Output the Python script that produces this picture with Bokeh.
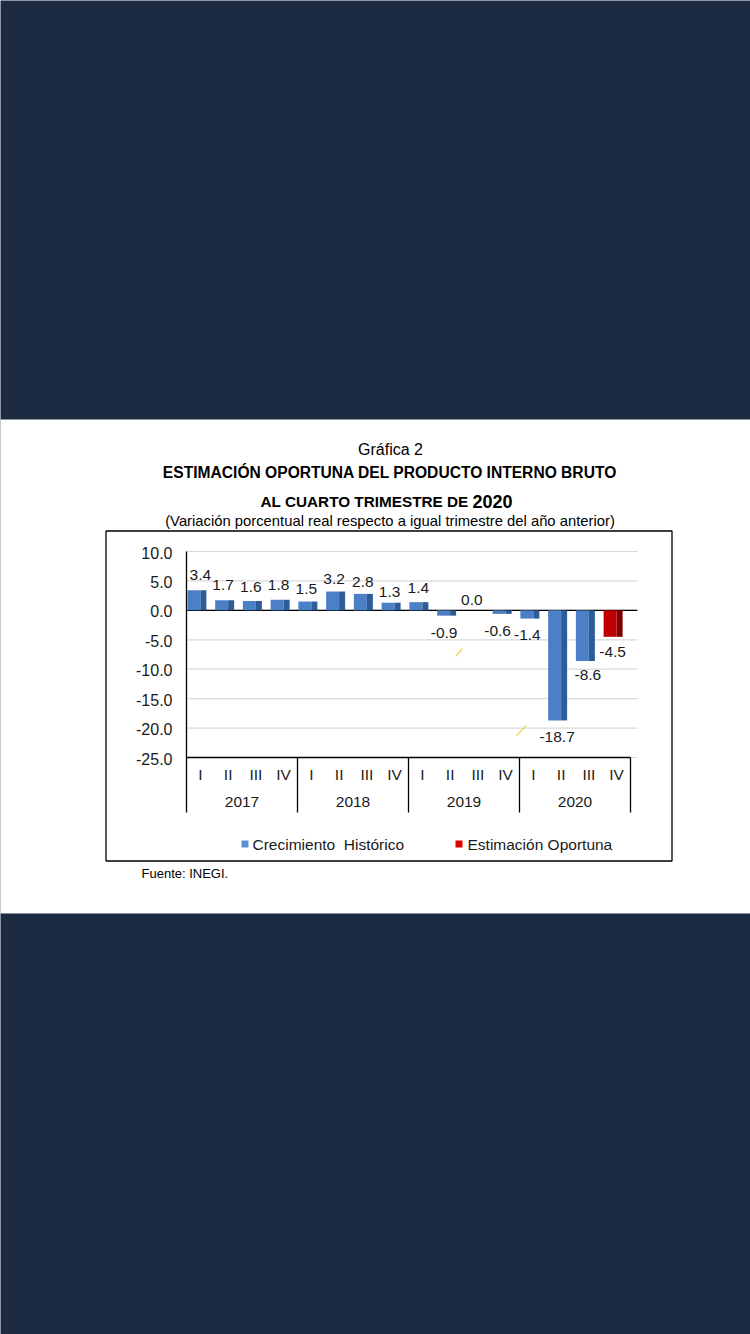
from bokeh.plotting import figure
from bokeh.models import Range1d
from bokeh.core.properties import value
from bokeh.embed import file_html
from bokeh.resources import INLINE

# ---------------- data ----------------
years = ["2017", "2018", "2019", "2020"]
quarters = ["I", "II", "III", "IV"]
historic = [3.4, 1.7, 1.6, 1.8, 1.5, 3.2, 2.8, 1.3, 1.4, -0.9, 0.0, -0.6, -1.4, -18.7, -8.6]
estimate = [-4.5]
y_ticks = [10.0, 5.0, 0.0, -5.0, -10.0, -15.0, -20.0, -25.0]
series_names = ["Crecimiento  Histórico", "Estimación Oportuna"]

# ---------------- layout helpers (pixel -> data) ----------------
W, H = 750, 1334
X0, XS = 186.0, 27.75            # pixel of category edge 0, px per category
YS = 206.0 / 35.0                # px per unit of value
Y0 = 551.0 + 10.0 * YS           # pixel of value 0


def dx(px):
    return (px - X0) / XS


def dy(py):
    return (Y0 - py) / YS


FONT = value("Liberation Sans")
DARK = "#1d2b42"
BLUE, BLUE_SIDE = "#4c80c6", "#2d5c97"
RED, RED_SIDE = "#c00000", "#7e0000"
GRID = "#d9d9d9"
TXT = "#1a1a1a"

p = figure(width=W, height=H, x_range=Range1d(dx(0), dx(W)), y_range=Range1d(dy(H), dy(0)),
           toolbar_location=None, output_backend="svg", min_border=0,
           x_axis_location=None, y_axis_location=None,
           background_fill_color=DARK, border_fill_color=DARK, outline_line_color=None)
for g in p.grid:
    g.visible = False

# white band and chart box
p.quad(left=dx(-1), right=dx(W + 1), top=dy(419), bottom=dy(913), fill_color="white", line_color=None)
p.quad(left=dx(105.5), right=dx(671.5), top=dy(530.5), bottom=dy(860.5),
       fill_color=None, line_color="black", line_width=1.3)

n = len(historic) + len(estimate)
x_end = n + 0.25
values = historic + estimate
centers = [i + 0.5 for i in range(n)]

# gridlines
p.segment(x0=[0] * len(y_ticks), x1=[x_end] * len(y_ticks), y0=y_ticks, y1=y_ticks,
          line_color=GRID, line_width=1.2)
# zero line and category axis line
p.segment(x0=[0], x1=[x_end], y0=[0], y1=[0], line_color="black", line_width=1.3)
p.segment(x0=[0], x1=[n], y0=[min(y_ticks)], y1=[min(y_ticks)], line_color="black", line_width=1.3)
# value axis line (extends through the category table)
p.segment(x0=[0], x1=[0], y0=[max(y_ticks)], y1=[dy(812)], line_color="black", line_width=1.3)
# year separators
nq = len(quarters)
seps = [nq * (k + 1) for k in range(len(years))]
p.segment(x0=seps, x1=seps, y0=[min(y_ticks)] * len(seps), y1=[dy(812)] * len(seps),
          line_color="black", line_width=1.3)

# bars (front face + darker side face)
front_w = 13.0 / XS
side_w = 6.0 / XS
for vals, start, col, side in [(historic, 0, BLUE, BLUE_SIDE), (estimate, len(historic), RED, RED_SIDE)]:
    cs = [start + i + 0.5 for i in range(len(vals))]
    tops = [max(v, 0) for v in vals]
    bots = [min(v, 0) for v in vals]
    p.quad(left=[c - front_w for c in cs], right=cs, top=tops, bottom=bots,
           fill_color=col, line_color=None)
    p.quad(left=cs, right=[c + side_w for c in cs], top=tops, bottom=bots,
           fill_color=side, line_color=None)

# data labels (pixel nudges are layout only)
label_dx = [0, -5, -5, -5, -5, -5, -4, -5, -4, -6, -6, -8, -6, -4, -1, -4]
label_dy = [-15, -15, -14, -15, -13, -13, -12, -11, -14, 17, -10, 17, 16, 17, 14, 15]
for i, v in enumerate(values):
    p.text(x=[centers[i]], y=[v], text=[f"{v:.1f}"], x_offset=label_dx[i], y_offset=label_dy[i],
           text_align="center", text_baseline="middle", text_font=FONT,
           text_font_size="15.5px", text_color=TXT)

# value axis tick labels
p.text(x=[dx(172)] * len(y_ticks), y=y_ticks, text=[f"{t:.1f}" for t in y_ticks], y_offset=1,
       text_align="right", text_baseline="middle", text_font=FONT,
       text_font_size="16px", text_color=TXT)

# category labels
p.text(x=centers, y=[dy(774)] * n, text=quarters * len(years),
       text_align="center", text_baseline="middle", text_font=FONT,
       text_font_size="15.5px", text_color=TXT)
p.text(x=[nq * k + nq / 2 for k in range(len(years))], y=[dy(801)] * len(years), text=years,
       text_align="center", text_baseline="middle", text_font=FONT,
       text_font_size="15.5px", text_color=TXT)

# small yellow leader marks
p.segment(x0=[dx(455), dx(516)], y0=[dy(656), dy(735)], x1=[dx(462), dx(526)], y1=[dy(648), dy(725)],
          line_color="#e8d650", line_width=1.2)

# legend
p.scatter(x=[dx(244.5)], y=[dy(843.5)], marker="square", size=7, fill_color="#5a8fd2", line_color=None)
p.scatter(x=[dx(458.5)], y=[dy(843.5)], marker="square", size=7, fill_color="#e00000", line_color=None)
p.text(x=[dx(252), dx(467)], y=[dy(844), dy(844)], text=[s.replace("  ", " \u00a0") for s in series_names],
       text_align="left", text_baseline="middle", text_font=FONT,
       text_font_size="15.5px", text_color=TXT)

# titles
p.text(x=[dx(390)], y=[dy(449)], text=["Gráfica 2"], text_align="center", text_baseline="middle",
       text_font=FONT, text_font_size="16px", text_color="black")
p.text(x=[dx(389.5)], y=[dy(472)], text=["ESTIMACIÓN OPORTUNA DEL PRODUCTO INTERNO BRUTO"],
       text_align="center", text_baseline="middle", text_font=FONT, text_font_style="bold",
       text_font_size="15.6px", text_color="black")
p.text(x=[dx(468)], y=[dy(501)], text=["AL CUARTO TRIMESTRE DE"], text_align="right",
       text_baseline="alphabetic", text_font=FONT, text_font_style="bold",
       text_font_size="15.3px", text_color="black")
p.text(x=[dx(472)], y=[dy(501)], text=["2020"], text_align="left",
       text_baseline="alphabetic", text_font=FONT, text_font_style="bold",
       text_font_size="18px", text_color="black")
p.text(x=[dx(389.5)], y=[dy(520)], text=["(Variación porcentual real respecto a igual trimestre del año anterior)"],
       text_align="center", text_baseline="middle", text_font=FONT,
       text_font_size="14.8px", text_color="black")
p.text(x=[dx(141)], y=[dy(873)], text=["Fuente: INEGI."], text_align="left", text_baseline="middle",
       text_font=FONT, text_font_size="13px", text_color="black")

open("out.html", "w").write(file_html(p, INLINE))
